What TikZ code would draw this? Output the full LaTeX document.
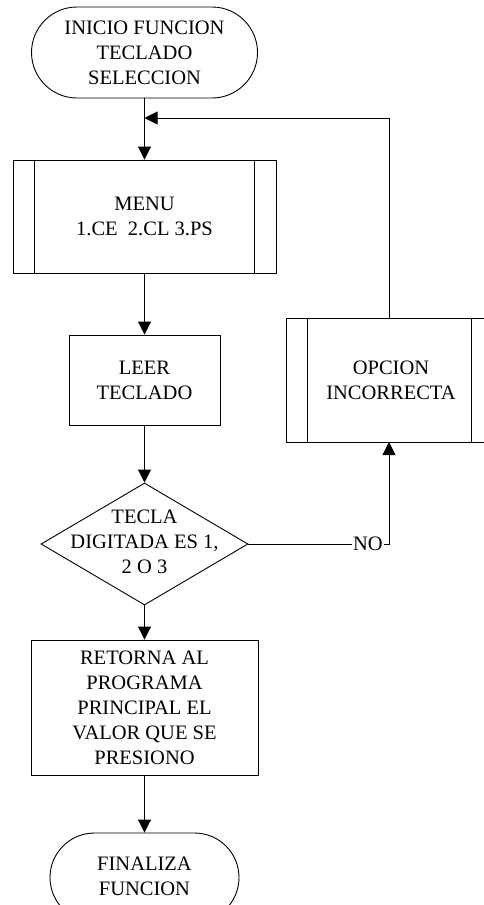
\documentclass[tikz,border=0pt]{standalone}
\usepackage{fontspec}
\setmainfont{Liberation Serif}
\usetikzlibrary{shapes.misc,shapes.geometric,arrows.meta}
\newcommand{\mylines}[1]{\begin{tabular}{@{}c@{}}#1\end{tabular}}
\begin{document}
\begin{tikzpicture}[x=1pt,y=-1pt,
  base/.style={draw, line width=0.9pt, inner sep=0pt, align=center,
               font=\fontsize{20.5}{25}\selectfont},
  term/.style={base, rounded rectangle, rounded rectangle arc length=180},
  proc/.style={base, rectangle},
  dec/.style={base, diamond},
  flow/.style={line width=0.9pt, -{Triangle[length=13pt,width=13pt]}},
  lbl/.style={fill=white, inner sep=1pt, font=\fontsize{20.5}{25}\selectfont}]
\useasboundingbox (0,0) rectangle (484,905);

% nodes
\node[term, minimum width=226, minimum height=91] (start) at (144.5,52.5)
  {INICIO FUNCION\\TECLADO\\SELECCION};
\node[proc, minimum width=263, minimum height=113] (menu) at (144.5,216.5)
  {MENU\\1.CE\ \ 2.CL 3.PS};
\node[proc, minimum width=151, minimum height=90] (read) at (144.5,380)
  {LEER\\TECLADO};
\node[dec, minimum width=207, minimum height=122] (check) at (144.5,544)
  {\smash{\makebox[0pt]{\raisebox{-5pt}{\mylines{TECLA\\DIGITADA ES 1,\\2 O 3}}}}};
\node[proc, minimum width=210, minimum height=124] (wrong) at (391,380)
  {OPCION\\INCORRECTA};
\node[proc, minimum width=227, minimum height=135] (ret) at (144.5,707.5)
  {RETORNA AL\\PROGRAMA\\PRINCIPAL EL\\VALOR QUE SE\\PRESIONO};
\node[term, minimum width=189, minimum height=89] (end) at (144.5,877.5)
  {\raisebox{11pt}{\mylines{FINALIZA\\FUNCION}}};

% side bars of the predefined-process boxes
\draw[line width=0.9pt] ([xshift=22pt]menu.north west) -- ([xshift=22pt]menu.south west);
\draw[line width=0.9pt] ([xshift=-22pt]menu.north east) -- ([xshift=-22pt]menu.south east);
\draw[line width=0.9pt] ([xshift=22pt]wrong.north west) -- ([xshift=22pt]wrong.south west);
\draw[line width=0.9pt] ([xshift=-25pt]wrong.north east) -- ([xshift=-25pt]wrong.south east);

% connectors
\coordinate (join) at (144.5,118);
\coordinate (up) at (389,318);
\coordinate (down) at (389,442);
\draw[flow] (start.south) -- (menu.north);
\draw[flow] (up) |- (join);
\draw[flow] (menu) -- (read);
\draw[flow] (read) -- (check);
\draw[flow] (check.east) -| node[lbl, pos=0.425] {NO} (down);
\draw[flow] (check) -- (ret);
\draw[flow] (ret) -- (end);
\end{tikzpicture}
\end{document}
